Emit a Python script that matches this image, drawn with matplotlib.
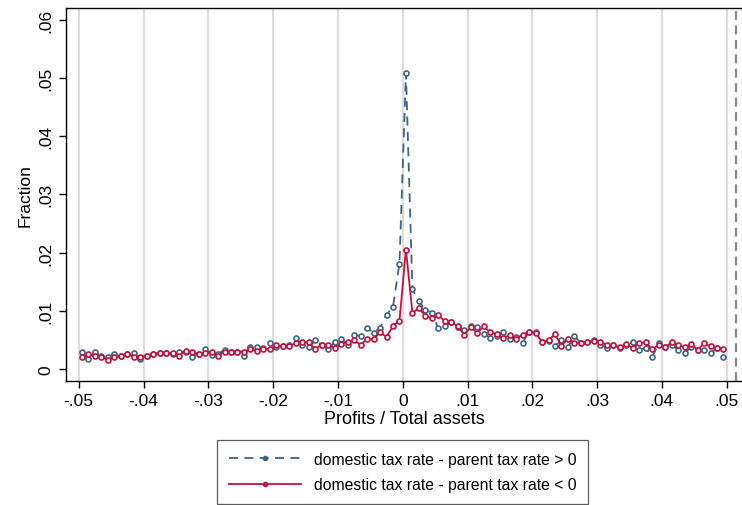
import numpy as np
import matplotlib
matplotlib.use("Agg")
import matplotlib.pyplot as plt
from matplotlib.lines import Line2D

plt.rcParams['font.family'] = ['Liberation Sans', 'DejaVu Sans']

# bin midpoints of Profits / Total assets (width .001)
bins = np.arange(-0.0495, 0.05, 0.001)

# domestic tax rate - parent tax rate > 0
frac_pos = [
    0.0029, 0.0017, 0.0029, 0.0022, 0.0021, 0.0026, 0.0023, 0.0026, 0.0027, 0.0018,
    0.0023, 0.0026, 0.0028, 0.0028, 0.0026, 0.0030, 0.0029, 0.0021, 0.0026, 0.0035,
    0.0024, 0.0026, 0.0033, 0.0030, 0.0030,
    0.0023, 0.0037, 0.0038, 0.0036, 0.0045, 0.0037, 0.0040, 0.0041, 0.0053, 0.0041,
    0.0037, 0.0049, 0.0041, 0.0034, 0.0046, 0.0052, 0.0042, 0.0058, 0.0057, 0.0071,
    0.0062, 0.0071, 0.0093, 0.0107, 0.0181,
    0.0508,
    0.0137, 0.0117, 0.0101, 0.0097, 0.0070, 0.0073, 0.0081, 0.0072, 0.0067, 0.0073,
    0.0072, 0.0060, 0.0054, 0.0056, 0.0063, 0.0051, 0.0055, 0.0045, 0.0064, 0.0063,
    0.0047, 0.0048, 0.0039, 0.0049,
    0.0038, 0.0056, 0.0045, 0.0047, 0.0049, 0.0042, 0.0036, 0.0042, 0.0036, 0.0041,
    0.0046, 0.0033, 0.0036, 0.0021, 0.0044, 0.0037, 0.0041, 0.0033, 0.0027, 0.0037,
    0.0032, 0.0032, 0.0027, 0.0036, 0.0020,
]

# domestic tax rate - parent tax rate < 0
frac_neg = [
    0.0021, 0.0025, 0.0023, 0.0021, 0.0015, 0.0021, 0.0023, 0.0026, 0.0021, 0.0021,
    0.0023, 0.0026, 0.0028, 0.0028, 0.0027, 0.0023, 0.0031, 0.0029, 0.0026, 0.0028,
    0.0030, 0.0023, 0.0030, 0.0030, 0.0030,
    0.0030, 0.0034, 0.0031, 0.0035, 0.0034, 0.0041, 0.0039, 0.0040, 0.0044, 0.0046,
    0.0046, 0.0034, 0.0042, 0.0041, 0.0036, 0.0043, 0.0047, 0.0049, 0.0042, 0.0051,
    0.0051, 0.0063, 0.0055, 0.0074, 0.0083,
    0.0205,
    0.0096, 0.0105, 0.0091, 0.0087, 0.0093, 0.0082, 0.0081, 0.0073, 0.0059, 0.0072,
    0.0062, 0.0073, 0.0063, 0.0060, 0.0053, 0.0058, 0.0052, 0.0059, 0.0064, 0.0062,
    0.0047, 0.0049, 0.0060, 0.0040,
    0.0052, 0.0045, 0.0045, 0.0047, 0.0048, 0.0047, 0.0041, 0.0041, 0.0037, 0.0043,
    0.0036, 0.0044, 0.0046, 0.0034, 0.0041, 0.0037, 0.0046, 0.0042, 0.0037, 0.0043,
    0.0033, 0.0044, 0.0039, 0.0036, 0.0034,
]

xticks = [-0.05, -0.04, -0.03, -0.02, -0.01, 0, 0.01, 0.02, 0.03, 0.04, 0.05]
xlabels = ["-.05", "-.04", "-.03", "-.02", "-.01", "0", ".01", ".02", ".03", ".04", ".05"]
yticks = [0, 0.01, 0.02, 0.03, 0.04, 0.05, 0.06]
ylabels = ["0", ".01", ".02", ".03", ".04", ".05", ".06"]

labels = ["domestic tax rate - parent tax rate > 0",
          "domestic tax rate - parent tax rate < 0"]
blue = "#3d6684"
red = "#c8103a"

fig = plt.figure(figsize=(7.42, 5.06), dpi=100)
ax = fig.add_axes([66 / 742, 124 / 506, 676 / 742, 373 / 506])

ax.plot(bins, frac_pos, color=blue, lw=1.3, ls=(0, (5, 3.5)),
        marker='o', ms=3.6, mfc='white', mec=blue, mew=1.2, zorder=3)
ax.plot(bins, frac_neg, color=red, lw=1.3, ls='-',
        marker='o', ms=3.6, mfc='white', mec=red, mew=1.2, zorder=4)

ax.axvline(0.0515, color='#888888', lw=1.6, ls=(0, (4, 2.5)), zorder=2)

ax.set_xlim(-0.05196, 0.05236)
ax.set_ylim(-0.00206, 0.0620)
ax.set_xticks(xticks)
ax.set_xticklabels(xlabels)
ax.set_yticks(yticks)
ax.set_yticklabels(ylabels, rotation=90, va='center')
ax.tick_params(labelsize=12.5, length=5, width=1, direction='out', pad=4)
ax.xaxis.grid(True, color='#dddddd', lw=1.5)
ax.set_axisbelow(True)

ax.spines['right'].set_visible(False)
for s in ['left', 'bottom', 'top']:
    ax.spines[s].set_linewidth(1.0)

ax.set_xlabel("Profits / Total assets", fontsize=13, labelpad=1)
ax.set_ylabel("Fraction", fontsize=12.5, labelpad=4)

handles = [
    Line2D([], [], color=blue, lw=1.3, ls=(0, (5, 3.5)), marker='o', ms=3, mfc=blue, mec=blue),
    Line2D([], [], color=red, lw=1.3, ls='-', marker='o', ms=3, mfc=red, mec=red),
]
leg = fig.legend(handles, labels, loc='center', bbox_to_anchor=(402.5 / 742, 33 / 506),
                 fontsize=11.3, frameon=True, fancybox=False, numpoints=1,
                 handlelength=4.6, handletextpad=0.8, borderpad=0.75, labelspacing=0.65)
leg.get_frame().set_edgecolor('#333333')
leg.get_frame().set_linewidth(0.9)

fig.savefig("out.png", dpi=100)
